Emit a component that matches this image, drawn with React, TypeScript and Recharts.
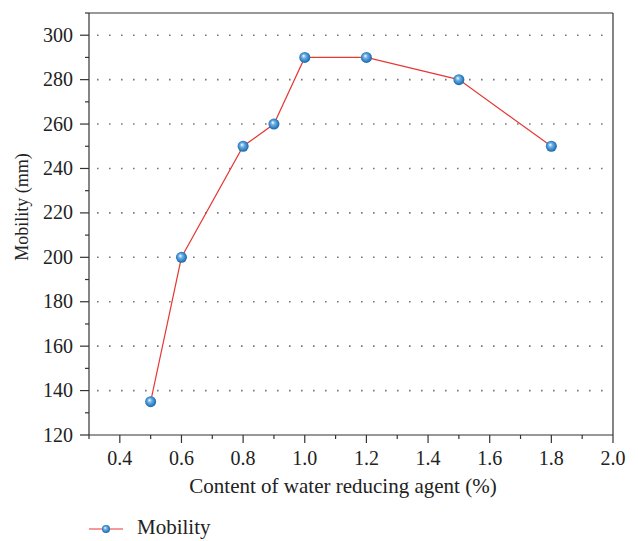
import { LineChart, Line, XAxis, YAxis, CartesianGrid, ReferenceLine } from "recharts";

const contents = [0.5, 0.6, 0.8, 0.9, 1.0, 1.2, 1.5, 1.8];
const mobility = [135, 200, 250, 260, 290, 290, 280, 250];
const xTicks = [0.3, 0.4, 0.5, 0.6, 0.7, 0.8, 0.9, 1.0, 1.1, 1.2, 1.3, 1.4, 1.5, 1.6, 1.7, 1.8, 1.9, 2.0];
const xLabels = ["0.4", "0.6", "0.8", "1.0", "1.2", "1.4", "1.6", "1.8", "2.0"];
const yTicks = [120, 130, 140, 150, 160, 170, 180, 190, 200, 210, 220, 230, 240, 250, 260, 270, 280, 290, 300, 310];
const yLabels = [120, 140, 160, 180, 200, 220, 240, 260, 280, 300];

const data = contents.map((c, i) => ({ x: c, y: mobility[i] }));

const FONT = "'Liberation Serif', 'DejaVu Serif', serif";
const AXIS = "#333";
const TEXT = "#222";

function XTick(props: any) {
    const { x, y, payload } = props;
    const label = payload.value.toFixed(1);
    const major = xLabels.includes(label);
    return (
        <g>
            <line x1={x} x2={x} y1={y} y2={y + (major ? 8 : 4)} stroke={AXIS} strokeWidth={1.2} />
            {major && (
                <text x={x} y={y + 30} textAnchor="middle" fontFamily={FONT} fontSize={20} fill={TEXT}>
                    {label}
                </text>
            )}
        </g>
    );
}

function YTick(props: any) {
    const { x, y, payload } = props;
    const major = yLabels.includes(payload.value);
    return (
        <g>
            <line x1={x - (major ? 9 : 4)} x2={x} y1={y} y2={y} stroke={AXIS} strokeWidth={1.2} />
            {major && (
                <text x={x - 16} y={y + 6.5} textAnchor="end" fontFamily={FONT} fontSize={20} fill={TEXT}>
                    {payload.value}
                </text>
            )}
        </g>
    );
}

function XTitle(props: any) {
    const { viewBox } = props;
    const cx = viewBox.x + viewBox.width / 2 - 8;
    return (
        <text x={cx} y={viewBox.y + 58} textAnchor="middle" fontFamily={FONT} fontSize={21} fill={TEXT}>
            Content of water reducing agent (%)
        </text>
    );
}

function YTitle(props: any) {
    const { viewBox } = props;
    const cx = 22;
    const cy = viewBox.y + viewBox.height / 2 - 17;
    return (
        <text
            x={cx}
            y={cy}
            transform={`rotate(-90, ${cx}, ${cy})`}
            textAnchor="middle"
            dominantBaseline="central"
            fontFamily={FONT}
            fontSize={18}
            fill={TEXT}
        >
            Mobility (mm)
        </text>
    );
}

function Ball(props: any) {
    const { cx, cy } = props;
    return <circle cx={cx} cy={cy} r={5.5} fill="url(#ball)" />;
}

export default function App() {
    return (
        <div style={{ position: "absolute", left: 0, top: 0, width: 638, height: 541, background: "#fff" }}>
            <LineChart width={638} height={541} data={data} margin={{ top: 13, right: 25, bottom: 41, left: 0 }}>
                <defs>
                    <radialGradient id="ball" cx="0.5" cy="0.5" r="0.6" fx="0.38" fy="0.35">
                        <stop offset="0%" stopColor="#ffffff" />
                        <stop offset="30%" stopColor="#6fb3e6" />
                        <stop offset="75%" stopColor="#2676bb" />
                        <stop offset="100%" stopColor="#1a5a96" />
                    </radialGradient>
                </defs>
                <CartesianGrid
                    vertical={false}
                    horizontalValues={[140, 160, 180, 200, 220, 240, 260, 280, 300]}
                    stroke="#777"
                    strokeWidth={1.6}
                    strokeDasharray="1.6 10.4"
                    strokeDashoffset={-8}
                />
                <XAxis
                    dataKey="x"
                    type="number"
                    domain={[0.3, 2.0]}
                    ticks={xTicks}
                    interval={0}
                    tickLine={false}
                    tickSize={0}
                    tickMargin={0}
                    tick={<XTick />}
                    height={65}
                    axisLine={{ stroke: AXIS, strokeWidth: 1.2 }}
                    label={<XTitle />}
                />
                <YAxis
                    dataKey="y"
                    type="number"
                    domain={[120, 310]}
                    ticks={yTicks}
                    interval={0}
                    tickLine={false}
                    tickSize={0}
                    tickMargin={0}
                    tick={<YTick />}
                    width={89}
                    axisLine={{ stroke: AXIS, strokeWidth: 1.2 }}
                    label={<YTitle />}
                />
                <ReferenceLine x={2.0} stroke={AXIS} strokeWidth={1.2} />
                <ReferenceLine y={310} stroke={AXIS} strokeWidth={1.2} />
                <Line
                    type="linear"
                    dataKey="y"
                    stroke="#e53935"
                    strokeWidth={1.2}
                    dot={<Ball />}
                    activeDot={false}
                    isAnimationActive={false}
                />
            </LineChart>
            <div style={{ position: "absolute", left: 88, top: 515, display: "flex", alignItems: "center", fontFamily: FONT, fontSize: 21, color: TEXT }}>
                <svg width={36} height={24}>
                    <defs>
                        <radialGradient id="ball2" cx="0.5" cy="0.5" r="0.6" fx="0.38" fy="0.35">
                            <stop offset="0%" stopColor="#ffffff" />
                            <stop offset="30%" stopColor="#6fb3e6" />
                            <stop offset="75%" stopColor="#2676bb" />
                            <stop offset="100%" stopColor="#1a5a96" />
                        </radialGradient>
                    </defs>
                    <line x1={1} x2={35} y1={13} y2={13} stroke="#e53935" strokeWidth={1.2} />
                    <circle cx={18} cy={13} r={4} fill="url(#ball2)" />
                </svg>
                <span style={{ marginLeft: 13 }}>Mobility</span>
            </div>
        </div>
    );
}
